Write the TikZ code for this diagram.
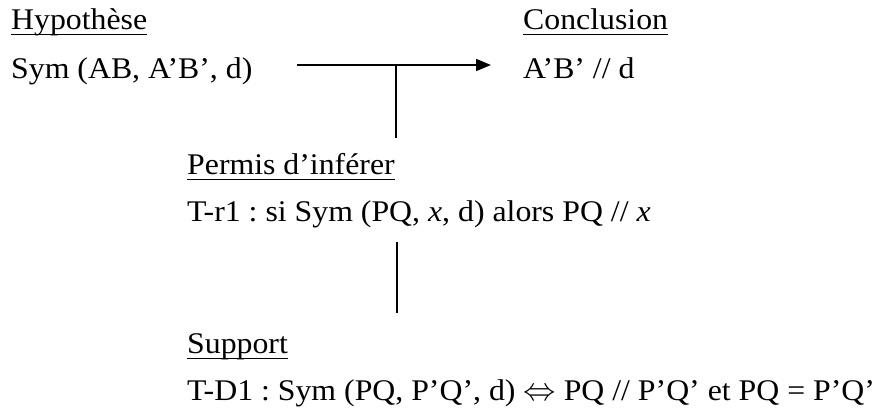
\documentclass[tikz,border=0pt]{standalone}
\usepackage{fontspec}
\usepackage{graphicx}
\setmainfont[FakeStretch=1.06]{Liberation Serif}
\usetikzlibrary{arrows.meta}
\begin{document}
\begin{tikzpicture}[x=1pt,y=-1pt,
  txt/.style={anchor=base west,inner sep=0pt,font=\fontsize{30}{36}\selectfont\frenchspacing},
  ul/.style={line width=1.8pt},
  conn/.style={line width=1.5pt},
  arr/.style={line width=1.5pt,-{Triangle[length=15pt,width=12pt]}}]
\useasboundingbox (0,0) rectangle (877,407);
\node[txt] (hyp) at (11,29) {Hypothèse};
\node[txt] (sym) at (11,78) {Sym (AB, A’B’, d)};
\node[txt] (conc) at (523,29) {Conclusion};
\node[txt] (ab) at (523,78) {A’B’ // d};
\node[txt] (perm) at (187,174) {Permis d’inférer};
\node[txt] (tr1) at (187,221) {T-r1 : si Sym (PQ, \textit{x}, d) alors PQ // \textit{x}};
\node[txt] (sup) at (187,353) {Support};
\node[txt] (td1) at (187,400) {T-D1 : Sym (PQ, P’Q’, d) \scalebox{1.3}{$\Leftrightarrow$} PQ // P’Q’ et PQ = P’Q’};
\foreach \n in {hyp,conc,perm,sup}
  \draw[ul] ([yshift=-5.5pt]\n.base west) -- ([yshift=-5.5pt]\n.base east);
\coordinate (a1) at (297,65);
\coordinate (a2) at (491,65);
\coordinate (j1) at (396,65);
\coordinate (j2) at (396,138);
\coordinate (v1) at (397,242);
\coordinate (v2) at (397,313);
\draw[arr] (a1) -- (a2);
\draw[conn] (j1) -- (j2);
\draw[conn] (v1) -- (v2);
\end{tikzpicture}
\end{document}
